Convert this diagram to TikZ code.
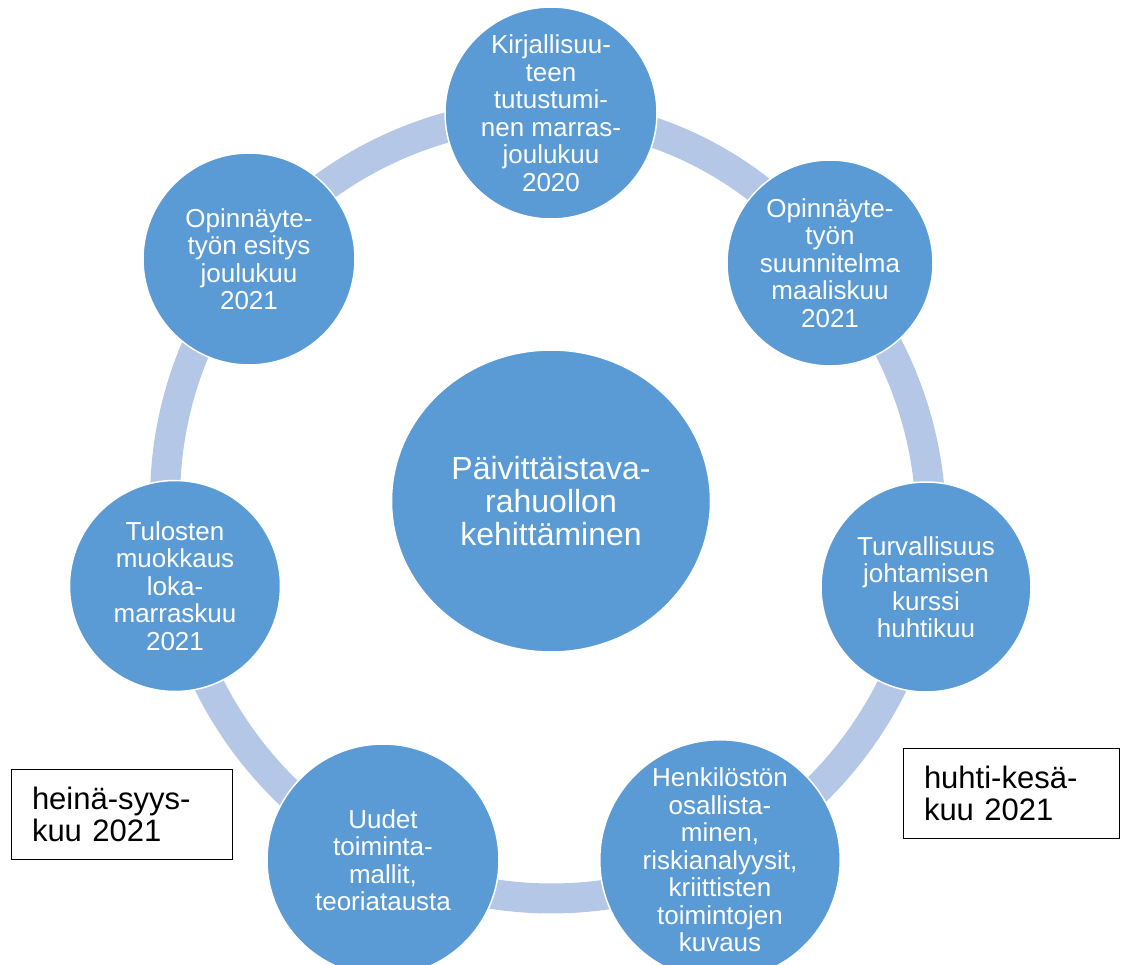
\documentclass[tikz,border=0pt]{standalone}
\usepackage{fontspec}
\setmainfont{Liberation Sans}
\usetikzlibrary{shapes.geometric,backgrounds}
\definecolor{cblue}{HTML}{5B9BD5}
\definecolor{cring}{HTML}{B4C7E7}
\begin{document}
\begin{tikzpicture}[x=1pt,y=-1pt,
  bub/.style={circle,fill=cblue,draw=white,line width=1.5pt,text=white,align=center,inner sep=0pt,font=\fontsize{26}{27.5}\selectfont},
  ringarc/.style={draw=cring,line width=30pt},
  lbl/.style={draw=black,line width=0.8pt,fill=white,align=left,inner xsep=21pt,inner ysep=0pt,minimum height=90pt,font=\fontsize{31}{32}\selectfont}]
\useasboundingbox (0,0) rectangle (1122,965);
\node[ellipse,fill=cblue,draw=white,line width=1.5pt,inner sep=0pt,minimum width=319pt,minimum height=302pt,text=white,align=center,font=\fontsize{32}{33}\selectfont] (c) at (551,501) {Päivittäistava-\\rahuollon\\kehittäminen};
\node[bub,minimum size=212pt] (n1) at (551,113) {Kirjallisuu-\\teen\\tutustumi-\\nen marras-\\joulukuu\\2020};
\node[bub,minimum size=206pt] (n2) at (830,263) {Opinnäyte-\\työn\\suunnitelma\\maaliskuu\\2021};
\node[bub,minimum size=210pt] (n3) at (926,587) {Turvallisuus\\johtamisen\\kurssi\\huhtikuu};
\node[bub,minimum size=234pt] (n4) at (720,860) {Henkilöstön\\osallista-\\minen,\\riskianalyysit,\\kriittisten\\toimintojen\\kuvaus};
\node[bub,minimum size=232pt] (n5) at (383,860) {Uudet\\toiminta-\\mallit,\\teoriatausta};
\node[bub,minimum size=211pt] (n6) at (175,586) {Tulosten\\muokkaus\\loka-\\marraskuu\\2021};
\node[bub,minimum size=212pt] (n7) at (249,259) {Opinnäyte-\\työn esitys\\joulukuu\\2021};
\node[lbl,text width=179pt] (b1) at (121.5,814) {heinä-syys-\\kuu 2021};
\node[lbl,text width=174pt] (b2) at (1011,793.5) {huhti-kesä-\\kuu 2021};
\begin{scope}[on background layer]
\draw[ringarc] (n1.center) to[bend left=25.7,looseness=0.9] (n2.center);
\draw[ringarc] (n2.center) to[bend left=25.7,looseness=0.9] (n3.center);
\draw[ringarc] (n3.center) to[bend left=25.7,looseness=0.9] (n4.center);
\draw[ringarc] (n4.center) to[bend left=25.7,looseness=0.9] (n5.center);
\draw[ringarc] (n5.center) to[bend left=25.7,looseness=0.9] (n6.center);
\draw[ringarc] (n6.center) to[bend left=25.7,looseness=0.9] (n7.center);
\draw[ringarc] (n7.center) to[bend left=25.7,looseness=0.9] (n1.center);
\end{scope}
\end{tikzpicture}
\end{document}
